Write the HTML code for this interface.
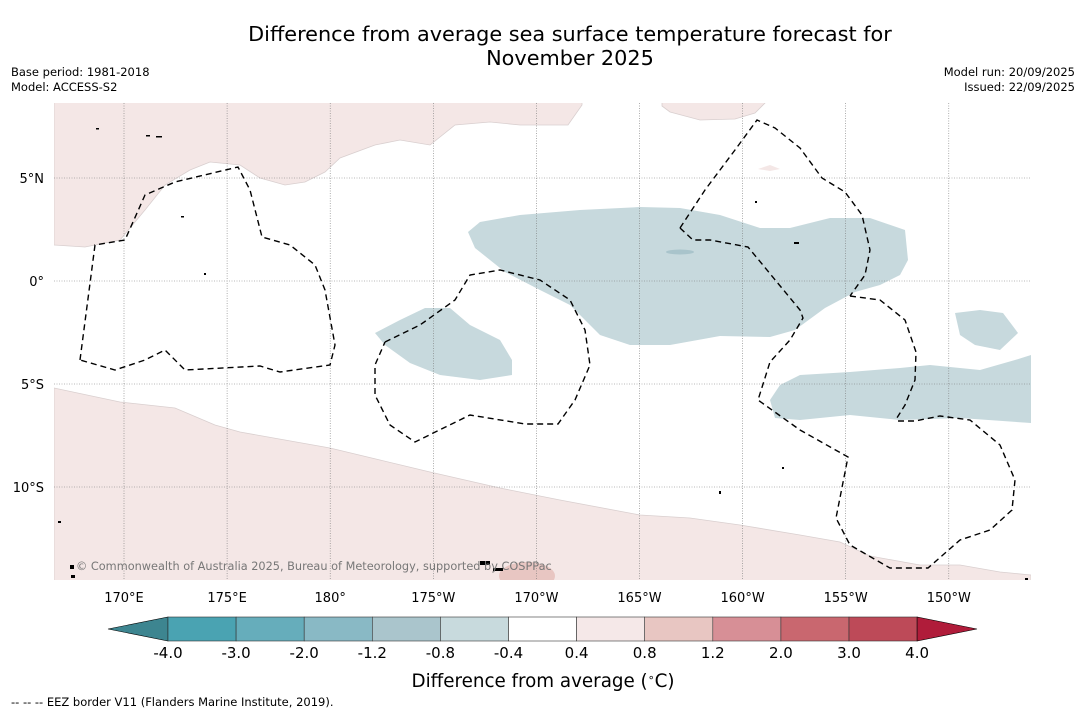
<!DOCTYPE html>
<html><head><meta charset="utf-8"><style>
html,body{margin:0;padding:0;background:#fff;}
body{width:1085px;height:713px;position:relative;overflow:hidden;font-family:"DejaVu Sans","Liberation Sans",sans-serif;}
.t{position:absolute;color:#000;}
</style></head><body>
<div class="t" style="left:0;width:1140px;top:22px;text-align:center;font-size:20.8px;line-height:24px;">Difference from average sea surface temperature forecast for<br>November 2025</div>
<div class="t" style="left:11px;top:65px;font-size:11.5px;line-height:15px;">Base period: 1981-2018<br>Model: ACCESS-S2</div>
<div class="t" style="right:10px;top:65px;font-size:11.5px;line-height:15px;text-align:right;">Model run: 20/09/2025<br>Issued: 22/09/2025</div>
<svg id="map" width="1085" height="713" style="position:absolute;left:0;top:0" xmlns="http://www.w3.org/2000/svg">
<defs><clipPath id="mc"><rect x="54" y="103" width="977" height="477"/></clipPath></defs>
<g clip-path="url(#mc)">
<rect x="54" y="103" width="977" height="477" fill="#fff"/>
<polygon fill="#f4e7e6" stroke="#d9cfcf" stroke-width="0.8" points="54,100 582,100 582,105 568,125 520,125 490,122 455,125 430,145 400,140 375,145 340,158 325,172 305,182 285,185 260,178 240,165 210,162 190,170 165,185 145,210 120,240 85,247 54,245"/>
<polygon fill="#f4e7e6" stroke="#d9cfcf" stroke-width="0.8" points="662,100 768,100 755,113 735,119 700,120 670,112 662,106"/>
<polygon fill="#f4e7e6" points="758,169 770,165 780,169 770,171"/>
<polygon fill="#f4e7e6" stroke="#d9cfcf" stroke-width="0.8" points="54,388 120,402 175,408 215,425 240,432 330,448 380,460 430,472 500,488 560,500 640,515 690,518 740,525 800,535 840,542 870,556 920,565 960,565 1000,572 1031,575 1031,585 54,585"/>
<ellipse cx="527" cy="576" rx="28" ry="14" fill="#e8c6c2"/>
<polygon fill="#c7d9dd" points="468,232 480,222 520,215 580,210 640,207 680,208 720,215 760,228 790,228 830,218 870,218 905,230 908,260 900,275 880,285 855,292 825,308 795,330 770,337 720,336 670,345 630,345 600,335 570,305 540,290 505,272 490,260 475,248"/>
<ellipse cx="680" cy="252" rx="14" ry="2.5" fill="#a9c4cb"/>
<polygon fill="#c7d9dd" points="375,333 400,320 425,308 450,308 470,325 500,340 512,360 512,375 480,380 440,375 410,363 385,345"/>
<polygon fill="#c7d9dd" points="770,400 780,385 800,375 850,372 900,368 930,365 980,370 1015,360 1031,355 1031,423 960,418 900,420 850,415 800,420 775,418"/>
<polygon fill="#c7d9dd" points="955,313 980,310 1003,313 1018,333 1000,350 975,345 960,335"/>
<g id="grid" stroke="#777" stroke-width="0.6" stroke-dasharray="1,1.5"></g>
<g fill="none" stroke="#000" stroke-width="1.4" stroke-dasharray="6,4">
<polyline points="80,360 95,245 125,240 145,195 175,182 238,167 250,190 262,237 290,245 315,265 325,290 335,345 330,365 280,372 260,366 185,370 165,350 145,360 115,370 80,360"/>
<polyline points="385,342 420,325 455,300 470,275 500,270 540,280 570,300 585,330 590,365 575,400 558,424 525,424 470,415 415,442 390,425 375,395 375,365 385,342"/>
<polyline points="680,228 705,190 735,150 757,120 775,128 800,148 822,178 845,192 862,215 870,250 865,275 850,296"/>
<polyline points="680,228 693,240 710,240 748,247 800,310 803,318 790,340 770,362 758,400 800,430 848,457 836,518 850,545 890,568 928,568 960,540 990,530 1012,510 1015,480 1000,445 970,420 940,416 915,421 895,421"/>
<polyline points="850,296 880,300 905,320 916,352 915,380 905,405 895,421"/>
</g>
<g fill="#000">
<rect x="146" y="135" width="4" height="1.5"/><rect x="156" y="136" width="6" height="1.5"/><rect x="96" y="128" width="3" height="1.5"/><rect x="181" y="216" width="3" height="1.5"/><rect x="204" y="273" width="2" height="2"/><rect x="794" y="242" width="5" height="2"/><rect x="755" y="201" width="2" height="2"/><rect x="480" y="561" width="10" height="4"/><rect x="493" y="568" width="10" height="3"/><rect x="70" y="565" width="4" height="4"/><rect x="58" y="521" width="3" height="2"/><rect x="71" y="575" width="4" height="3"/><rect x="719" y="491" width="2" height="3"/><rect x="782" y="467" width="2" height="2"/><rect x="1025" y="578" width="3" height="2"/>
</g>
</g>
<text x="76" y="570" font-size="11.3" fill="#777" font-family="DejaVu Sans, sans-serif">© Commonwealth of Australia 2025, Bureau of Meteorology, supported by COSPPac</text>
<g id="lonlabels" font-size="13" font-family="DejaVu Sans, sans-serif" text-anchor="middle"></g>
<g id="latlabels" font-size="13" font-family="DejaVu Sans, sans-serif" text-anchor="end"></g>
<g id="cbar"></g>
<g id="cbticks" font-size="15" font-family="DejaVu Sans, sans-serif" text-anchor="middle"></g>
<text x="543" y="687" font-size="18.3" text-anchor="middle" font-family="DejaVu Sans, sans-serif">Difference from average (<tspan dy="-6" font-size="11">∘</tspan><tspan dy="6">C)</tspan></text>
<text x="11" y="706" font-size="11.5" font-family="DejaVu Sans, sans-serif">--  --  -- EEZ border V11 (Flanders Marine Institute, 2019).</text>
</svg>
<script>
const lonTicks=[170,175,180,185,190,195,200,205,210];
const lonLabels=["170°E","175°E","180°","175°W","170°W","165°W","160°W","155°W","150°W"];
const latTicks=[5,0,-5,-10];
const latLabels=["5°N","0°","5°S","10°S"];
const cbBounds=["-4.0","-3.0","-2.0","-1.2","-0.8","-0.4","0.4","0.8","1.2","2.0","3.0","4.0"];
const cbColors=["#4aa3b2","#66adbb","#89b9c5","#aac5cc","#c8dadd","#ffffff","#f5e8e8","#e8c6c2","#d78f96","#c9676f","#bd4a58"];
const cbExtend=["#3d8590","#b01c3a"];
const NS="http://www.w3.org/2000/svg";
const lonX=l=>124+(l-170)*20.62;
const latY=l=>281-l*20.6;
function mk(tag,attrs,parent){const e=document.createElementNS(NS,tag);for(const k in attrs)e.setAttribute(k,attrs[k]);parent.appendChild(e);return e;}
const grid=document.getElementById('grid');
lonTicks.forEach((l,i)=>{
 const g=mk('line',{x1:lonX(l),x2:lonX(l),y1:103,y2:580},grid);
 
 
 const t=mk('text',{x:lonX(l),y:602},document.getElementById('lonlabels'));t.textContent=lonLabels[i];
 
 
});
latTicks.forEach((l,i)=>{
 const g=mk('line',{x1:54,x2:1031,y1:latY(l),y2:latY(l)},grid);
 
 
 const t=mk('text',{x:44,y:latY(l)+5},document.getElementById('latlabels'));t.textContent=latLabels[i];
 
 
});
const cb=document.getElementById('cbar');
const x0=168,w=68.1,y0=617,h=24;
mk('polygon',{points:`${x0},${y0} ${x0},${y0+h} 108,${y0+h/2}`,fill:cbExtend[0],stroke:'#000','stroke-width':0.6},cb);
cbColors.forEach((c,i)=>{
 const r=mk('rect',{x:x0+i*w,y:y0,width:w,height:h,fill:c,stroke:'#333','stroke-width':0.6},cb);
 
 
});
const xe=x0+cbColors.length*w;
mk('polygon',{points:`${xe},${y0} ${xe},${y0+h} 977,${y0+h/2}`,fill:cbExtend[1],stroke:'#000','stroke-width':0.6},cb);
cbBounds.forEach((b,i)=>{
 const t=mk('text',{x:x0+i*w,y:658},document.getElementById('cbticks'));t.textContent=b;
 
 
});
</script>
</body></html>
